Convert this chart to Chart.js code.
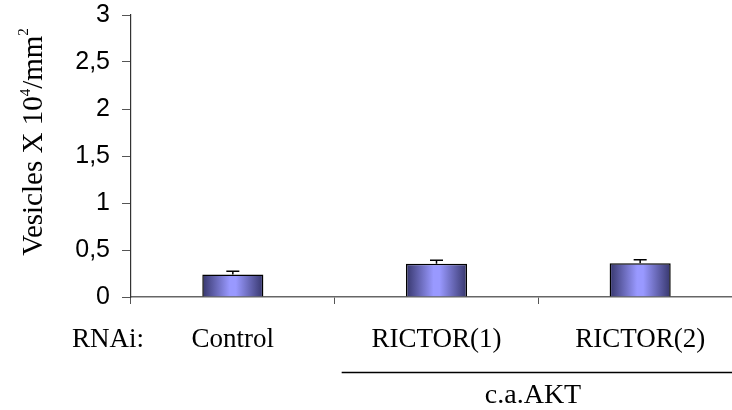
<!DOCTYPE html>
<html>
<head>
<meta charset="utf-8">
<script src="https://cdn.jsdelivr.net/npm/chart.js@4/dist/chart.umd.min.js"></script>
<style>
  html, body { margin: 0; padding: 0; background: #fff; overflow: hidden; }
  #wrap { width: 750px; height: 410px; }
</style>
</head>
<body>
<div id="wrap"><canvas id="c" width="750" height="410"></canvas></div>
<script>
// Vesicle density per RNAi condition
const categories = ['Control', 'RICTOR(1)', 'RICTOR(2)'];
const vesicles = [0.24, 0.355, 0.36];
const errors = [0.035, 0.035, 0.035];
const yTicks = [0, 0.5, 1, 1.5, 2, 2.5, 3];

const BAR_PCT = 0.3;
const serif = '"Liberation Serif", "Times New Roman", serif';
const sans = '"Liberation Sans", Arial, sans-serif';

function barGradient(ctx) {
  const chart = ctx.chart;
  const xs = chart.scales && chart.scales.x;
  if (!chart.chartArea || !xs || ctx.dataIndex === undefined) return '#9999ff';
  const cx = xs.getPixelForValue(ctx.dataIndex);
  const half = (xs.width / categories.length) * BAR_PCT / 2;
  const g = chart.ctx.createLinearGradient(cx - half, 0, cx + half, 0);
  g.addColorStop(0, '#36366c');
  g.addColorStop(0.45, '#9999ff');
  g.addColorStop(0.55, '#9999ff');
  g.addColorStop(1, '#36366c');
  return g;
}

// Upper error whiskers, the y-axis title with superscripts, and the group bracket
const annotations = {
  id: 'annotations',
  afterDatasetsDraw(chart) {
    const { ctx, scales: { x, y } } = chart;
    ctx.save();
    ctx.strokeStyle = '#000';
    ctx.lineWidth = 1.5;
    vesicles.forEach((v, i) => {
      const cx = x.getPixelForValue(i);
      const top = y.getPixelForValue(v + errors[i]);
      const base = y.getPixelForValue(v);
      ctx.beginPath();
      ctx.moveTo(cx, base);
      ctx.lineTo(cx, top);
      ctx.moveTo(cx - 6.5, top);
      ctx.lineTo(cx + 6.5, top);
      ctx.stroke();
    });
    ctx.restore();
  },
  afterDraw(chart) {
    const { ctx, scales: { x } } = chart;
    ctx.save();
    ctx.fillStyle = '#000';

    // y-axis title: Vesicles X 10^4/mm^2
    const parts = [
      ['Vesicles X 10', 29, 0],
      ['4', 15, -12],
      ['/mm', 29, 0],
      ['2', 15, -14]
    ];
    let total = 0;
    parts.forEach(p => { ctx.font = p[1] + 'px ' + serif; total += ctx.measureText(p[0]).width; });
    ctx.translate(42, 142);
    ctx.rotate(-Math.PI / 2);
    ctx.textBaseline = 'alphabetic';
    ctx.textAlign = 'left';
    let px = -total / 2;
    parts.forEach(p => {
      ctx.font = p[1] + 'px ' + serif;
      ctx.fillText(p[0], px, p[2]);
      px += ctx.measureText(p[0]).width;
    });
    ctx.setTransform(1, 0, 0, 1, 0, 0);

    // row label
    ctx.font = '27px ' + serif;
    ctx.textBaseline = 'middle';
    ctx.textAlign = 'left';
    ctx.fillText('RNAi:', 72, 340);

    // bracket under the c.a.AKT group
    const step = x.width / categories.length;
    const left = x.left + step + 7;
    ctx.strokeStyle = '#000';
    ctx.lineWidth = 1.3;
    ctx.beginPath();
    ctx.moveTo(left, 372.5);
    ctx.lineTo(chart.width, 372.5);
    ctx.stroke();
    ctx.font = '28px ' + serif;
    ctx.textAlign = 'center';
    ctx.fillText('c.a.AKT', 533, 396);
    ctx.restore();
  }
};

new Chart(document.getElementById('c'), {
  type: 'bar',
  data: {
    labels: categories,
    datasets: [{
      data: vesicles,
      backgroundColor: barGradient,
      borderColor: '#000',
      borderWidth: 1.5,
      borderSkipped: 'bottom',
      barPercentage: BAR_PCT,
      categoryPercentage: 1
    }]
  },
  options: {
    responsive: false,
    animation: false,
    events: [],
    layout: { padding: { top: 15, right: 8, bottom: 0, left: 0 } },
    plugins: { legend: { display: false }, tooltip: { enabled: false } },
    scales: {
      x: {
        offset: true,
        afterFit(axis) { axis.height = 113; axis.paddingLeft = 0; axis.paddingRight = 0; },
        grid: { offset: true, drawOnChartArea: false, drawTicks: true, tickLength: 7, color: '#555', tickWidth: 1 },
        border: { color: '#666', width: 1.5 },
        ticks: { color: '#000', font: { family: serif, size: 27 }, padding: 20, maxRotation: 0, autoSkip: false }
      },
      y: {
        min: 0,
        max: 3,
        afterBuildTicks(axis) { axis.ticks = yTicks.map(v => ({ value: v })); },
        afterFit(axis) { axis.width = 131; axis.paddingTop = 0; axis.paddingBottom = 0; },
        grid: { drawOnChartArea: false, drawTicks: true, tickLength: 9, color: '#555' },
        border: { color: '#333', width: 1.2 },
        ticks: {
          color: '#000',
          font: { family: sans, size: 25 },
          padding: 12,
          callback: v => String(v).replace('.', ',')
        }
      }
    }
  },
  plugins: [annotations]
});
</script>
</body>
</html>
